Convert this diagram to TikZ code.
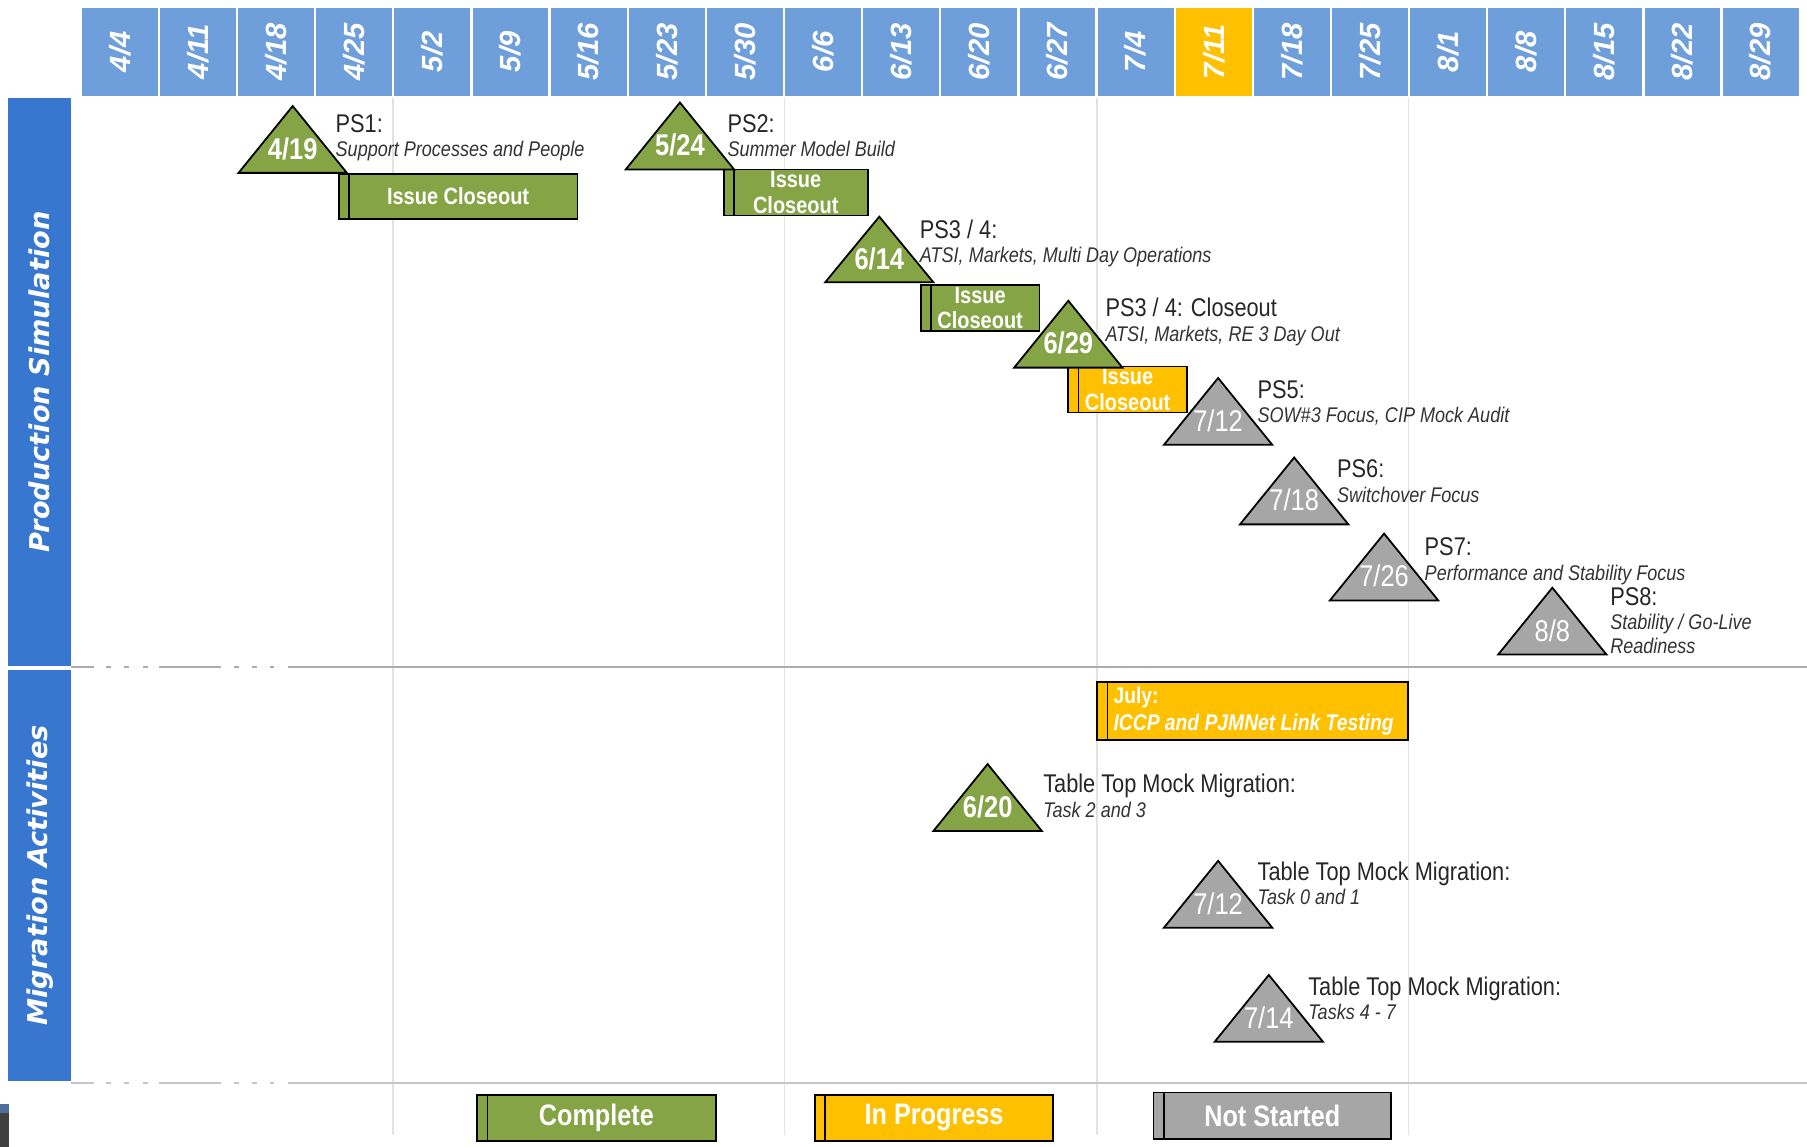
\documentclass[tikz,border=0pt]{standalone}
\usepackage{fontspec}
\setmainfont{Liberation Sans}
\newfontfamily\narrowfont[FakeStretch=0.85]{Liberation Sans}
\newfontfamily\widefont{DejaVu Sans}
\usepackage{xcolor}
\usepackage{tikz}
\usetikzlibrary{calc, positioning}

\definecolor{hdrblue}{HTML}{6F9FDB}
\definecolor{sideblue}{HTML}{3777CF}
\definecolor{done}{HTML}{84A446}
\definecolor{active}{HTML}{FFC000}
\definecolor{todo}{HTML}{A6A6A6}

\tikzset{
  hdr/.style={rotate=90, minimum width=1.9cm, minimum height=1.645cm, inner sep=0pt,
    text=white, font=\fontsize{18}{20}\selectfont\bfseries\itshape},
  sidebar/.style={rotate=90, fill=sideblue, minimum height=1.375cm, inner sep=0pt,
    text=white, font=\widefont\fontsize{16.8}{18}\selectfont\bfseries\itshape},
  gridline/.style={gray!22, line width=0.8pt},
  sepline/.style={gray!65, line width=1.2pt},
  ms/.style={draw=black, line width=1.1pt, line join=miter},
  msdate/.style={text=white, inner sep=0pt, font=\narrowfont\fontsize{18.5}{20}\selectfont},
  msdone/.style={msdate, font=\narrowfont\fontsize{18.5}{20}\selectfont\bfseries},
  pstitle/.style={anchor=base west, inner sep=0pt, text=black!85,
    font=\narrowfont\fontsize{15.8}{18}\selectfont},
  pssub/.style={anchor=base west, inner sep=0pt, text=black!80,
    font=\narrowfont\fontsize{13.1}{15}\selectfont\itshape},
  taskbar/.style={draw=black, line width=1.1pt, inner sep=0pt, text=white, align=center,
    font=\narrowfont\fontsize{14.5}{15.6}\selectfont\bfseries,
    path picture={\draw[line width=0.9pt]
      ([xshift=0.225cm]path picture bounding box.north west) --
      ([xshift=0.225cm]path picture bounding box.south west);}},
  legendbar/.style={taskbar, minimum height=1cm,
    font=\narrowfont\fontsize{18.3}{20}\selectfont\bfseries},
}

\begin{document}
\begin{tikzpicture}[x=0.025cm, y=-0.025cm]
  \useasboundingbox (0,0) rectangle (1568,995);

  % grid lines
  \foreach \gx in {341, 681, 952, 1222}
    \draw[gridline] (\gx,85) -- (\gx,985);

  % section separators
  \foreach \a/\b in {62/82, 92/96, 108/112, 124/128, 138/192, 203/207, 219/223, 234/238, 250/1568} {
    \draw[sepline] (\a,579) -- (\b,579);
    \draw[sepline, gray!45] (\a,940) -- (\b,940);
  }

  % week header
  \foreach \m/\dd/\c [count=\i from 0] in {4/4/hdrblue, 4/11/hdrblue, 4/18/hdrblue, 4/25/hdrblue,
      5/2/hdrblue, 5/9/hdrblue, 5/16/hdrblue, 5/23/hdrblue, 5/30/hdrblue, 6/6/hdrblue,
      6/13/hdrblue, 6/20/hdrblue, 6/27/hdrblue, 7/4/hdrblue, 7/11/active, 7/18/hdrblue,
      7/25/hdrblue, 8/1/hdrblue, 8/8/hdrblue, 8/15/hdrblue, 8/22/hdrblue, 8/29/hdrblue}
    \node[hdr, fill=\c] (h\i) at (104+\i*67.8,45) {\m/\dd};

  % side labels
  \node[sidebar, minimum width=12.325cm] (prodsim) at (34.5,331.5) {Production Simulation};
  \node[sidebar, minimum width=8.925cm] (migact) at (34.5,759.5) {Migration Activities};

  % issue closeout bars
  \node[taskbar, fill=done, minimum width=5.175cm, minimum height=0.975cm] (ic1) at (397.5,170.5) {Issue Closeout};
  \node[taskbar, fill=done, minimum width=3.125cm, minimum height=1cm] (ic2) at (690.5,167) {Issue\\Closeout};
  \node[taskbar, fill=done, minimum width=2.575cm, minimum height=1cm] (ic3) at (850.5,267) {Issue\\Closeout};
  \node[taskbar, fill=active, minimum width=2.575cm, minimum height=1cm] (ic4) at (978.5,338) {Issue\\Closeout};

  % production simulation milestones
  \draw[ms, fill=done] (207,150) -- (254,92) -- (301,150) -- cycle;
  \node[msdone] (d419) at (254,129) {4/19};
  \node[pstitle] (ps1) at (291,115) {PS1:};
  \node[pssub] (ps1s) at (291,136) {Support Processes and People};

  \draw[ms, fill=done] (543,147) -- (590,89) -- (637,147) -- cycle;
  \node[msdone] (d524) at (590,126) {5/24};
  \node[pstitle] (ps2) at (631,115) {PS2:};
  \node[pssub] (ps2s) at (631,136) {Summer Model Build};

  \draw[ms, fill=done] (716,245) -- (763,188) -- (810,245) -- cycle;
  \node[msdone] (d614) at (763,225) {6/14};
  \node[pstitle] (ps3) at (798,207) {PS3 / 4:};
  \node[pssub] (ps3s) at (798,228) {ATSI, Markets, Multi Day Operations};

  \draw[ms, fill=done] (880,319) -- (927,261) -- (974,319) -- cycle;
  \node[msdone] (d629) at (927,298) {6/29};
  \node[pstitle] (ps4) at (959,275) {PS3 / 4: Closeout};
  \node[pssub] (ps4s) at (959,296) {ATSI, Markets, RE 3 Day Out};

  \draw[ms, fill=todo] (1010,386) -- (1057,328) -- (1104,386) -- cycle;
  \node[msdate] (d712) at (1057,365) {7/12};
  \node[pstitle] (ps5) at (1091,346) {PS5:};
  \node[pssub] (ps5s) at (1091,367) {SOW\#3 Focus, CIP Mock Audit};

  \draw[ms, fill=todo] (1076,455) -- (1123,397) -- (1170,455) -- cycle;
  \node[msdate] (d718) at (1123,434) {7/18};
  \node[pstitle] (ps6) at (1160,414) {PS6:};
  \node[pssub] (ps6s) at (1160,436) {Switchover Focus};

  \draw[ms, fill=todo] (1154,521) -- (1201,463) -- (1248,521) -- cycle;
  \node[msdate] (d726) at (1201,500) {7/26};
  \node[pstitle] (ps7) at (1236,482) {PS7:};
  \node[pssub] (ps7s) at (1236,504) {Performance and Stability Focus};

  \draw[ms, fill=todo] (1300,568) -- (1347,510) -- (1394,568) -- cycle;
  \node[msdate] (d808) at (1347,547) {8/8};
  \node[pstitle] (ps8) at (1397,525) {PS8:};
  \node[pssub] (ps8s) at (1397,546) {Stability / Go-Live};
  \node[pssub] (ps8r) at (1397,567) {Readiness};

  % migration activities
  \node[taskbar, fill=active, minimum width=6.75cm, minimum height=1.25cm] (july) at (1087,617) {};
  \node[anchor=west, inner sep=0pt, text=white, align=left,
    font=\narrowfont\fontsize{14}{17}\selectfont\bfseries] (julytxt) at (966,617)
    {July:\\\textit{ICCP and PJMNet Link Testing}};

  \draw[ms, fill=done] (810,721) -- (857,663) -- (904,721) -- cycle;
  \node[msdone] (d620) at (857,700) {6/20};
  \node[pstitle] (tt1) at (905,688) {Table Top Mock Migration:};
  \node[pssub] (tt1s) at (905,709) {Task 2 and 3};

  \draw[ms, fill=todo] (1010,805) -- (1057,747) -- (1104,805) -- cycle;
  \node[msdate] (d712b) at (1057,784) {7/12};
  \node[pstitle] (tt2) at (1091,764) {Table Top Mock Migration:};
  \node[pssub] (tt2s) at (1091,785) {Task 0 and 1};

  \draw[ms, fill=todo] (1054,904) -- (1101,846) -- (1148,904) -- cycle;
  \node[msdate] (d714) at (1101,883) {7/14};
  \node[pstitle] (tt3) at (1135,864) {Table Top Mock Migration:};
  \node[pssub] (tt3s) at (1135,885) {Tasks 4 - 7};

  % legend
  \node[legendbar, fill=done, minimum width=5.175cm] (lgdone) at (517.5,970) {Complete};
  \node[legendbar, fill=active, minimum width=5.175cm] (lgactive) at (810.5,970) {In Progress};
  \node[legendbar, fill=todo, minimum width=5.15cm] (lgtodo) at (1104,968) {Not Started};

  % corner
  \fill[black!75] (0,958) rectangle (8,995);
  \fill[hdrblue!70!black] (0,958) rectangle (8,966);
\end{tikzpicture}
\end{document}
